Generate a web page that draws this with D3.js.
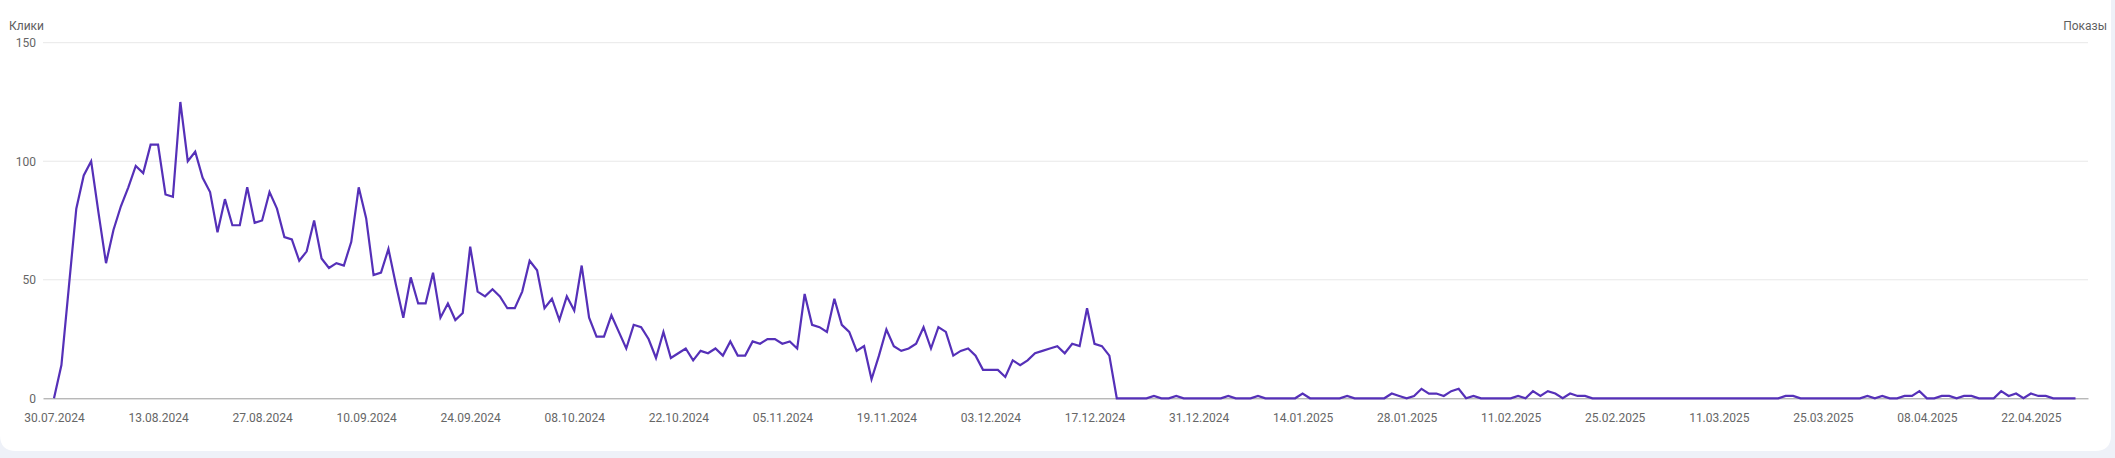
<!DOCTYPE html>
<html>
<head>
<meta charset="utf-8">
<script src="https://cdn.jsdelivr.net/npm/d3@7"></script>
<style>
  html, body { margin: 0; padding: 0; background: #eef1f8; }
  svg { display: block; font-family: Roboto, "Noto Sans", sans-serif; }
</style>
</head>
<body>
<script>
// ---- data ----
const startDate = "2024-07-30";
const clicks = [
  0,14,47,80,94,100,78,57,71,81,
  89,98,95,107,107,86,85,125,100,104,
  93,87,70,84,73,73,89,74,75,87,
  80,68,67,58,62,75,59,55,57,56,
  66,89,76,52,53,63,48,34,51,40,
  40,53,34,40,33,36,64,45,43,46,
  43,38,38,45,58,54,38,42,33,43,
  37,56,34,26,26,35,28,21,31,30,
  25,17,28,17,19,21,16,20,19,21,
  18,24,18,18,24,23,25,25,23,24,
  21,44,31,30,28,42,31,28,20,22,
  8,18,29,22,20,21,23,30,21,30,
  28,18,20,21,18,12,12,12,9,16,
  14,16,19,20,21,22,19,23,22,38,
  23,22,18,0,0,0,0,0,1,0,
  0,1,0,0,0,0,0,0,1,0,
  0,0,1,0,0,0,0,0,2,0,
  0,0,0,0,1,0,0,0,0,0,
  2,1,0,1,4,2,2,1,3,4,
  0,1,0,0,0,0,0,1,0,3,
  1,3,2,0,2,1,1,0,0,0,
  0,0,0,0,0,0,0,0,0,0,
  0,0,0,0,0,0,0,0,0,0,
  0,0,0,1,1,0,0,0,0,0,
  0,0,0,0,1,0,1,0,0,1,
  1,3,0,0,1,1,0,1,1,0,
  0,0,3,1,2,0,2,1,1,0,
  0,0,0
];
const tickDates = ["2024-07-30","2024-08-13","2024-08-27","2024-09-10","2024-09-24",
  "2024-10-08","2024-10-22","2024-11-05","2024-11-19","2024-12-03","2024-12-17",
  "2024-12-31","2025-01-14","2025-01-28","2025-02-11","2025-02-25","2025-03-11",
  "2025-03-25","2025-04-08","2025-04-22"];
const yTicks = [0, 50, 100, 150];
const leftTitle = "Клики";
const rightTitle = "Показы";

// ---- layout ----
const W = 2115, H = 458;
const plotLeft = 43, plotRight = 2088, plotTop = 42.7, plotBottom = 398.3;

const parse = d3.utcParse("%Y-%m-%d");
const start = parse(startDate);
const points = clicks.map((v, i) => ({ date: d3.utcDay.offset(start, i), value: v }));
const DAY = 864e5;
const last = points[points.length - 1].date;

const x = d3.scaleUtc()
  .domain([new Date(+start - 1.48 * DAY), new Date(+last + 1.68 * DAY)])
  .range([plotLeft, plotRight]);
const y = d3.scaleLinear().domain([0, 150]).range([plotBottom, plotTop]);

const svg = d3.select("body").append("svg").attr("width", W).attr("height", H);

// background card
svg.append("rect").attr("width", W).attr("height", H).attr("fill", "#eef1f8");
const r = 16, cb = 451, cr = 2111;
svg.append("path")
  .attr("d", `M-5,-5 H${cr} V${cb - r} Q${cr},${cb} ${cr - r},${cb} H${r} Q0,${cb} 0,${cb - r} V-5 Z`)
  .attr("fill", "#ffffff");

// grid lines
svg.append("g").selectAll("line")
  .data(yTicks.filter(d => d > 0))
  .join("line")
  .attr("x1", plotLeft).attr("x2", plotRight)
  .attr("y1", d => y(d)).attr("y2", d => y(d))
  .attr("stroke", "#e8e8e8").attr("stroke-width", 1);

// y axis labels
const yAxis = d3.axisLeft(y).tickValues(yTicks).tickSize(0).tickPadding(7);
const gy = svg.append("g").attr("transform", `translate(${plotLeft},0)`).call(yAxis);
gy.select(".domain").remove();
gy.selectAll("text").attr("fill", "#666").style("font-size", "12px").style("font-family", "Roboto, sans-serif");

// x axis
const xAxis = d3.axisBottom(x)
  .tickValues(tickDates.map(parse))
  .tickFormat(d3.utcFormat("%d.%m.%Y"))
  .tickSize(0).tickPadding(15);
const gx = svg.append("g").attr("transform", `translate(0,${plotBottom})`).call(xAxis);
gx.select(".domain").attr("stroke", "#9a9a9a").attr("stroke-width", 1);
gx.selectAll("text").attr("fill", "#666").style("font-size", "12px").style("font-family", "Roboto, sans-serif");

// line
const line = d3.line().x(d => x(d.date)).y(d => y(d.value));
svg.append("path")
  .datum(points)
  .attr("d", line)
  .attr("fill", "none")
  .attr("stroke", "#5530b8")
  .attr("stroke-width", 2.2)
  .attr("stroke-linejoin", "miter");

// axis titles
svg.append("text").attr("x", 9).attr("y", 30).text(leftTitle)
  .attr("fill", "#5f5f5f").style("font-size", "12px");
svg.append("text").attr("x", 2107).attr("y", 30).attr("text-anchor", "end").text(rightTitle)
  .attr("fill", "#5f5f5f").style("font-size", "12px");
</script>
</body>
</html>
